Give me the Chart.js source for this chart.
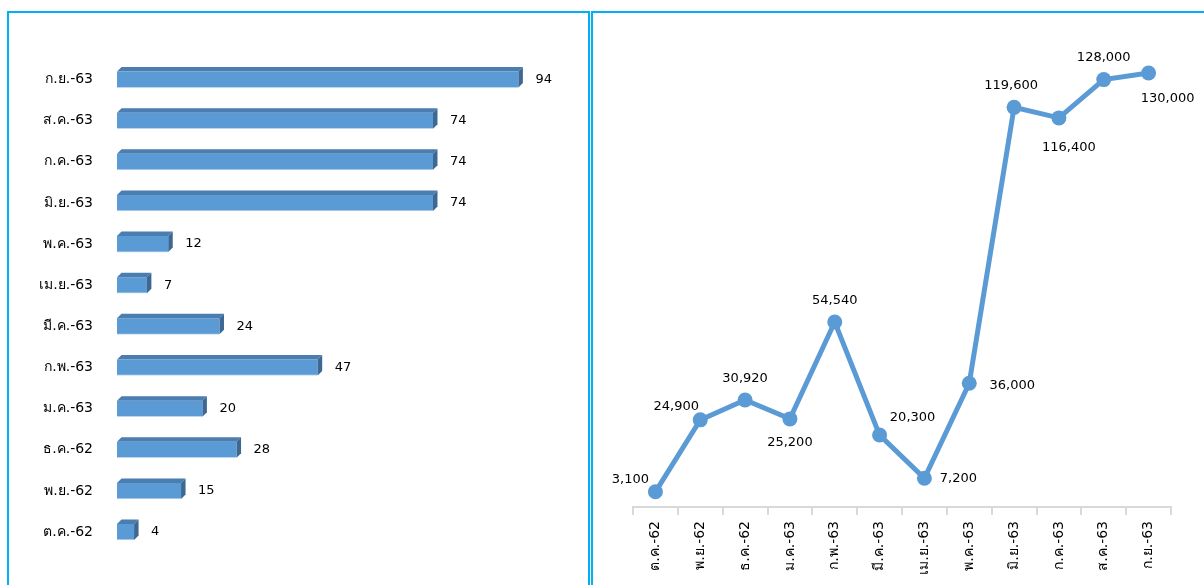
<!DOCTYPE html>
<html>
<head>
<meta charset="utf-8">
<script src="https://cdn.jsdelivr.net/npm/chart.js@4.4.1/dist/chart.umd.min.js"></script>
<style>
  body { margin: 0; background: #fff; overflow: hidden; }
  .panel { position: absolute; top: 11px; height: 600px; border: 2px solid #00B0F0; }
  #left { left: 7px; width: 579px; }
  #right { left: 591px; width: 700px; }
  canvas { position: absolute; left: 0; top: 0; }
</style>
</head>
<body>
<div class="panel" id="left"><canvas id="barChart" width="579" height="572"></canvas></div>
<div class="panel" id="right"><canvas id="lineChart" width="611" height="572"></canvas></div>
<script>
// months, oldest first
const months = ['ต.ค.-62', 'พ.ย.-62', 'ธ.ค.-62', 'ม.ค.-63', 'ก.พ.-63', 'มี.ค.-63',
                'เม.ย.-63', 'พ.ค.-63', 'มิ.ย.-63', 'ก.ค.-63', 'ส.ค.-63', 'ก.ย.-63'];
const barValues = [4, 15, 28, 20, 47, 24, 7, 12, 74, 74, 74, 94];
const lineValues = [3100, 24900, 30920, 25200, 54540, 20300, 7200, 36000, 119600, 116400, 128000, 130000];

const FONT = '"DejaVu Sans", "Noto Sans", sans-serif';
const blue = '#5B9BD5';

// fake 3d block on each bar + value at the end
const bar3d = {
    id: 'bar3d',
    afterDatasetsDraw(chart) {
        const ctx = chart.ctx;
        const d = 4.5;
        const meta = chart.getDatasetMeta(0);
        ctx.save();
        meta.data.forEach((el, i) => {
            const top = el.y - el.height / 2;
            const bottom = el.y + el.height / 2;
            ctx.fillStyle = '#4a7db0';
            ctx.beginPath();
            ctx.moveTo(el.base, top);
            ctx.lineTo(el.base + d, top - d);
            ctx.lineTo(el.x + d, top - d);
            ctx.lineTo(el.x, top);
            ctx.closePath();
            ctx.fill();
            ctx.fillStyle = '#3d6893';
            ctx.beginPath();
            ctx.moveTo(el.x, top);
            ctx.lineTo(el.x + d, top - d);
            ctx.lineTo(el.x + d, bottom - d);
            ctx.lineTo(el.x, bottom);
            ctx.closePath();
            ctx.fill();
            ctx.fillStyle = '#000';
            ctx.font = '13px ' + FONT;
            ctx.textAlign = 'left';
            ctx.textBaseline = 'middle';
            ctx.fillText(barValues[i], el.x + 17, el.y);
        });
        ctx.restore();
    }
};

new Chart(document.querySelector('#barChart'), {
    type: 'bar',
    data: {
        labels: months,
        datasets: [{
            data: barValues,
            backgroundColor: blue,
            borderColor: '#bcd6ee',
            borderWidth: { bottom: 1 },
            borderSkipped: false,
            barThickness: 16
        }]
    },
    options: {
        indexAxis: 'y',
        responsive: false,
        animation: false,
        events: [],
        layout: { padding: { top: 46, right: 44, bottom: 31, left: 0 } },
        plugins: { legend: { display: false }, tooltip: { enabled: false } },
        scales: {
            x: { display: false, min: 0, max: 100 },
            y: {
                reverse: true,
                grid: { display: false, drawTicks: false },
                border: { display: false },
                ticks: { color: '#000', padding: 24, font: { family: FONT, size: 14 } },
                afterFit: s => { s.width = 108; }
            }
        }
    },
    plugins: [bar3d]
});

// where each number sits relative to its point
const labelOffsets = [[-25, -12], [-24, -13], [0, -21], [0, 24], [0, -21], [33, -17],
                      [34, 0], [43, 2], [-3, -22], [10, 30], [0, -22], [19, 26]];

const pointLabels = {
    id: 'pointLabels',
    afterDatasetsDraw(chart) {
        const ctx = chart.ctx;
        ctx.save();
        ctx.fillStyle = '#000';
        ctx.font = '13px ' + FONT;
        ctx.textAlign = 'center';
        ctx.textBaseline = 'middle';
        chart.getDatasetMeta(0).data.forEach((p, i) => {
            ctx.fillText(lineValues[i].toLocaleString('en-US'), p.x + labelOffsets[i][0], p.y + labelOffsets[i][1]);
        });
        ctx.restore();
    }
};

new Chart(document.querySelector('#lineChart'), {
    type: 'line',
    data: {
        labels: months,
        datasets: [{
            data: lineValues,
            borderColor: blue,
            borderWidth: 5,
            backgroundColor: blue,
            pointBackgroundColor: blue,
            pointBorderWidth: 0,
            pointRadius: 7.5,
            tension: 0,
            clip: false
        }]
    },
    options: {
        responsive: false,
        animation: false,
        events: [],
        layout: { padding: { top: 27, right: 33, bottom: 0, left: 40 } },
        plugins: { legend: { display: false }, tooltip: { enabled: false } },
        scales: {
            y: { display: false, min: -1500, max: 140000 },
            x: {
                offset: true,
                grid: { offset: true, drawOnChartArea: false, tickLength: 8, color: '#d9d9d9', lineWidth: 2 },
                border: { color: '#d9d9d9', width: 2 },
                ticks: { color: '#000', minRotation: 90, maxRotation: 90, padding: 6, font: { family: FONT, size: 14 } },
                afterFit: s => { s.height = 78; }
            }
        }
    },
    plugins: [pointLabels]
});
</script>
</body>
</html>
